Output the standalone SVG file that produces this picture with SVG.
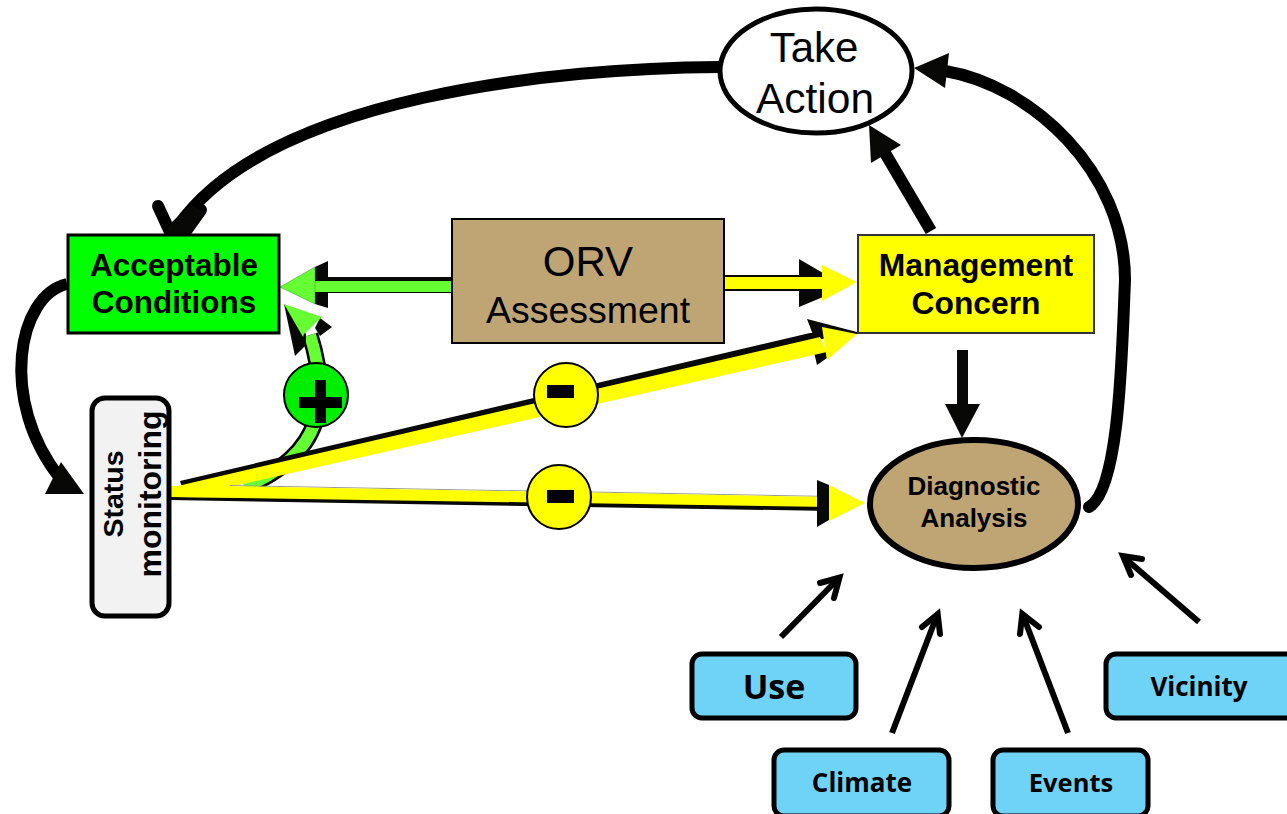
<svg xmlns="http://www.w3.org/2000/svg" width="1287" height="814" viewBox="0 0 1287 814">
<style>
text{font-family:"Liberation Sans",Arial,sans-serif;fill:#000;text-anchor:middle}
.b{font-weight:700}
.c{font-family:"Open Sans","Noto Sans",sans-serif;font-weight:700}
.k{fill:none;stroke:#000;stroke-width:12}
.s{fill:none;stroke:#000;stroke-width:6}
.h{fill:none;stroke:#000;stroke-width:6;stroke-linecap:round;stroke-linejoin:miter}
.blue{fill:#6fd3f7;stroke:#000;stroke-width:5}
.ky{fill:#080806}
.y{fill:#ffff00}
.g{fill:#66ff33}
</style>
<rect width="1287" height="814" fill="#fff"/>
<g id="connectors">
<path class="k" d="M720 67C560 68 270 95 178 226"/>
<path class="k" stroke-linecap="round" d="M158 206L170 232M201 210L186 231"/>
<polygon class="ky" points="164,234 190,234 205,212 190,205 172,222" />
<path class="k" d="M67 284C18 295 -2 400 60 478"/>
<polygon class="ky" points="45,494 61,462 84,494"/>
<path class="k" d="M931 231L885 153"/>
<polygon class="ky" points="869,125 901,145 871,163"/>
<path class="k" stroke-linecap="round" d="M1089 507C1120 490 1122 350 1125 280C1125 170 1030 85 945 71"/>
<polygon class="ky" points="914,68 949,53 945,88"/>
<rect class="ky" x="957" y="350" width="11" height="56"/>
<polygon class="ky" points="945,404 980,404 962,438"/>
<!-- ORV to Acceptable -->
<rect class="ky" x="325" y="277" width="127" height="16"/>
<polygon class="ky" points="328,261 328,308 315,304 315,267"/>
<rect class="g" x="310" y="281" width="142" height="11"/>
<polygon class="g" points="280,287 315,267 315,304" stroke="#3a8a20" stroke-width="0.5"/>
<!-- Status plus arc -->
<path d="M245 487C285 470 312 445 318 410C322 385 318 360 310 335" fill="none" stroke="#000" stroke-width="17"/>
<path d="M245 487C285 470 312 445 318 410C322 385 318 360 310 335" fill="none" stroke="#66ff33" stroke-width="12"/>
<polygon class="ky" points="284,304 295,356 306,345 306,334"/>
<polygon class="ky" points="315,328 320,318 332,327 320,336"/>
<polygon class="g" points="284,304 322,317 304,334 303,337"/>
<!-- ORV to Management -->
<rect class="ky" x="724" y="275" width="100" height="16"/>
<polygon class="ky" points="799,259 823,273 823,297 799,307"/>
<rect class="y" x="725" y="277" width="100" height="12"/>
<polygon class="y" points="822,265 857,282 822,301"/>
<!-- Status to Management -->
<polygon class="ky" points="180,481 810,333 857,332 820,338 182,487"/>
<polygon class="ky" points="807,319 857,332 857,334 815,340"/>
<polygon class="ky" points="817,365 814,352 826,350 827,358"/>
<polygon class="y" points="172,487 182,485 820,337 827,352 230,487"/>
<polygon class="y" points="822,327 857,334 827,360"/>
<!-- Status to Diagnostic -->
<polygon class="ky" points="170,497 830,500 830,511 170,500"/>
<polygon fill="#999" points="230,485 830,496 830,497 230,486"/>
<polygon class="y" points="170,486 230,486 830,497 830,507 170,497"/>
<polygon class="ky" points="817,480 829,485 829,520 817,527"/>
<polygon class="y" points="829,485 865,503 829,521"/>
<g>
<line class="s" x1="781" y1="637" x2="838" y2="579"/><path class="h" d="M820 583L839.500 577.600L834 598"/>
<line class="s" x1="892" y1="733" x2="936" y2="618"/><path class="h" d="M922 627L937.700 614L940 634"/>
<line class="s" x1="1068" y1="733" x2="1024" y2="618"/><path class="h" d="M1020 634L1022.300 614L1039 627"/>
<line class="s" x1="1199" y1="622" x2="1127" y2="560"/><path class="h" d="M1131 575L1123 556L1142 559"/>
</g>
</g>
<g id="take-action"><ellipse cx="816" cy="71" rx="96" ry="62" fill="#fff" stroke="#000" stroke-width="5"/>
<text x="814" y="62" font-size="42">Take</text><text x="815" y="113" font-size="42.500">Action</text></g>
<g id="acceptable"><rect x="68" y="235" width="211" height="98" fill="#00ff00" stroke="#000" stroke-width="3"/>
<text class="b" x="174" y="276" font-size="31.500">Acceptable</text><text class="b" x="174" y="313" font-size="31.500">Conditions</text></g>
<g id="orv"><rect x="452" y="219" width="272" height="124" fill="#bfa574" stroke="#000" stroke-width="2"/>
<text x="588" y="276" font-size="42">ORV</text><text x="588" y="323" font-size="37.500">Assessment</text></g>
<g id="management"><rect x="858" y="235" width="236" height="98" fill="#ffff00" stroke="#333" stroke-width="2"/>
<text class="b" x="976" y="276" font-size="31.800">Management</text><text class="b" x="976" y="314" font-size="31.800">Concern</text></g>
<g id="diagnostic"><ellipse cx="974" cy="504" rx="104" ry="64" fill="#bfa574" stroke="#000" stroke-width="6"/>
<text class="b" x="974" y="495" font-size="26">Diagnostic</text><text class="b" x="974" y="527" font-size="26">Analysis</text></g>
<g id="status"><rect x="92" y="398" width="77" height="218" rx="13" fill="#f2f2f2" stroke="#000" stroke-width="5"/>
<text class="b" transform="translate(123 494) rotate(-90)" font-size="28.500">Status</text>
<text class="b" transform="translate(161 494) rotate(-90)" font-size="32">monitoring</text></g>
<g id="plus"><circle cx="316" cy="395" r="32" fill="#00ee00" stroke="#000" stroke-width="2"/>
<rect x="299" y="397" width="43" height="11" fill="#000"/><rect x="315" y="380" width="11" height="43" fill="#000"/></g>
<g id="minus-1"><circle cx="566" cy="395" r="32" fill="#ffff00" stroke="#000" stroke-width="2"/><rect x="547" y="385" width="27" height="13" fill="#000"/></g>
<g id="minus-2"><circle cx="559" cy="497" r="32" fill="#ffff00" stroke="#000" stroke-width="2"/><rect x="547" y="490" width="27" height="13" fill="#000"/></g>
<g id="use"><rect class="blue" x="692" y="654" width="164" height="64" rx="10"/><text class="c" x="774" y="699" font-size="34">Use</text></g>
<g id="climate"><rect class="blue" x="774" y="750" width="175" height="66" rx="10"/><text class="c" x="862" y="792" font-size="26">Climate</text></g>
<g id="events"><rect class="blue" x="993" y="750" width="155" height="66" rx="10"/><text class="c" x="1071" y="792" font-size="25.500">Events</text></g>
<g id="vicinity"><rect class="blue" x="1106" y="654" width="190" height="64" rx="10"/><text class="c" x="1199" y="696" font-size="26">Vicinity</text></g>
</svg>
